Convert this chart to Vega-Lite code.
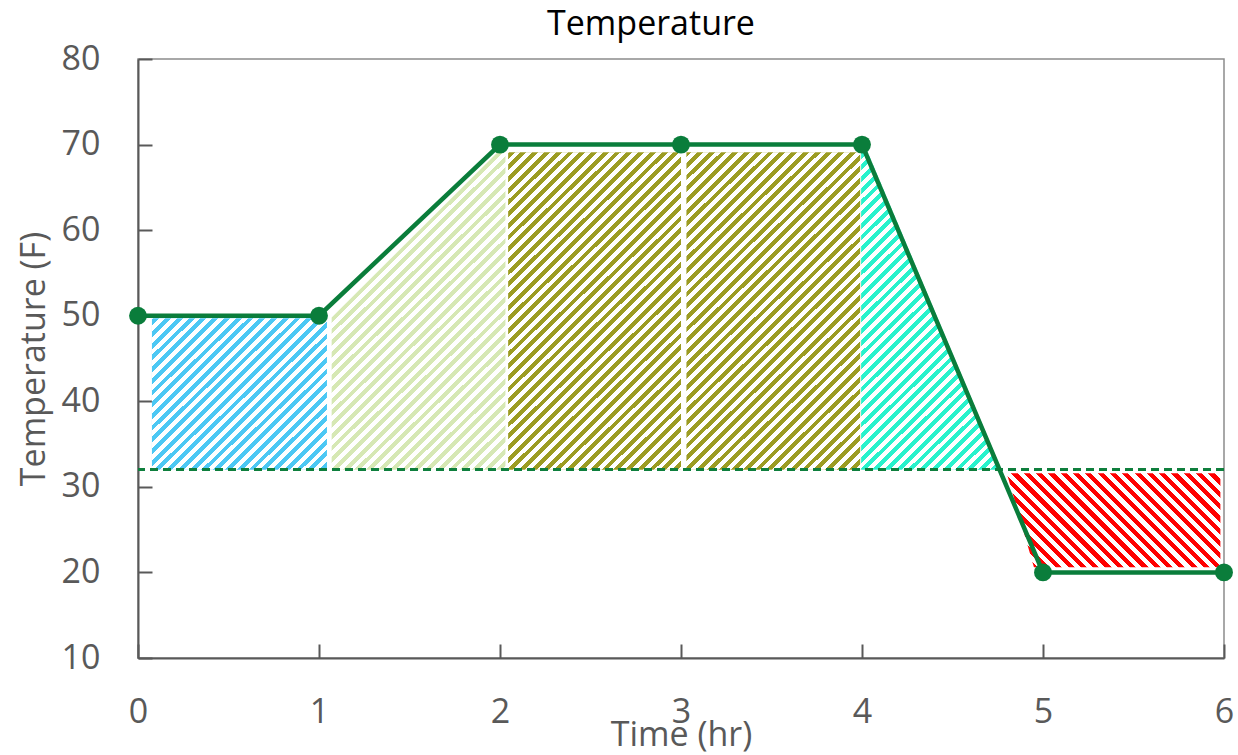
{
"$schema": "https://vega.github.io/schema/vega-lite/v6.json",
"width": 1086,
"height": 599,
"autosize": {"type": "none"},
"padding": {"left": 138, "top": 59, "right": 14, "bottom": 97},
"background": "#ffffff",
"title": {"text": "Temperature", "fontSize": 34, "font": "Open Sans", "fontWeight": "normal", "color": "#000000", "anchor": "middle", "frame": "group", "dx": -30, "offset": -27, "baseline": "alphabetic"},
"datasets": {
"temp": [
{"t": 0, "temp": 50}, {"t": 1, "temp": 50}, {"t": 2, "temp": 70}, {"t": 3, "temp": 70}, {"t": 4, "temp": 70}, {"t": 5, "temp": 20}, {"t": 6, "temp": 20}
],
"regions": [
{"region": "A", "x": 0.077, "top": 49.7, "bottom": 32},
{"region": "A", "x": 1.044, "top": 49.7, "bottom": 32},
{"region": "B", "x": 1.07, "top": 49.8, "bottom": 32},
{"region": "B", "x": 2.03, "top": 70, "bottom": 32},
{"region": "C", "x": 2.045, "top": 69.1, "bottom": 32},
{"region": "C", "x": 3.0, "top": 69.1, "bottom": 32},
{"region": "D", "x": 3.03, "top": 69.1, "bottom": 32},
{"region": "D", "x": 3.99, "top": 69.1, "bottom": 32},
{"region": "E", "x": 3.995, "top": 69.2, "bottom": 32},
{"region": "E", "x": 4.03, "top": 69.2, "bottom": 32},
{"region": "E", "x": 4.77, "top": 32, "bottom": 32},
{"region": "F", "x": 4.8, "top": 31.6, "bottom": 31.6},
{"region": "F", "x": 4.95, "top": 31.6, "bottom": 20.6},
{"region": "F", "x": 5.98, "top": 31.6, "bottom": 20.6}
]
},
"config": {
"font": "Open Sans",
"view": {"stroke": "#8c8c8c", "strokeWidth": 1.5},
"axis": {"grid": false, "domainColor": "#595959", "domainWidth": 2, "tickColor": "#595959", "tickWidth": 2, "tickSize": -14, "labelFont": "Open Sans", "labelFontSize": 34, "labelColor": "#595959", "titleFont": "Open Sans", "titleFontSize": 34, "titleColor": "#595959", "titleFontWeight": "normal", "labelFlush": false, "labelOverlap": false},
"axisX": {"labelPadding": 51, "titlePadding": -11, "labelAngle": 0, "tickCount": 6},
"axisY": {"labelPadding": 52, "titlePadding": 10, "tickCount": 7}
},
"layer": [
{
"data": {"name": "regions"},
"transform": [{"filter": "datum.region != 'F'"}],
"mark": {"type": "area", "opacity": 1},
"encoding": {
"x": {"field": "x", "type": "quantitative", "scale": {"domain": [0, 6], "nice": false}, "title": "Time (hr)"},
"y": {"field": "top", "type": "quantitative", "stack": null, "scale": {"domain": [10, 80], "nice": false}, "title": "Temperature (F)"},
"y2": {"field": "bottom"},
"color": {"field": "region", "type": "nominal", "scale": {"domain": ["A", "B", "C", "D", "E"], "range": ["#4cc8f4", "#d6e8b4", "#9c9c22", "#9c9c22", "#28f2cc"]}, "legend": null}
}
},
{
"data": {"name": "regions"},
"transform": [{"filter": "datum.region != 'F'"}],
"mark": {"type": "area", "opacity": 1, "color": {"gradient": "linear", "x1": 0, "y1": 0, "x2": 1.2062, "y2": 0.4647, "stops": [
{"offset":0,"color":"#fff0"},{"offset":0.005,"color":"#fff0"},{"offset":0.005,"color":"#fff"},{"offset":0.01,"color":"#fff"},
{"offset":0.01,"color":"#fff0"},{"offset":0.015,"color":"#fff0"},{"offset":0.015,"color":"#fff"},{"offset":0.02,"color":"#fff"},
{"offset":0.02,"color":"#fff0"},{"offset":0.025,"color":"#fff0"},{"offset":0.025,"color":"#fff"},{"offset":0.03,"color":"#fff"},
{"offset":0.03,"color":"#fff0"},{"offset":0.035,"color":"#fff0"},{"offset":0.035,"color":"#fff"},{"offset":0.04,"color":"#fff"},
{"offset":0.04,"color":"#fff0"},{"offset":0.045,"color":"#fff0"},{"offset":0.045,"color":"#fff"},{"offset":0.05,"color":"#fff"},
{"offset":0.05,"color":"#fff0"},{"offset":0.055,"color":"#fff0"},{"offset":0.055,"color":"#fff"},{"offset":0.06,"color":"#fff"},
{"offset":0.06,"color":"#fff0"},{"offset":0.065,"color":"#fff0"},{"offset":0.065,"color":"#fff"},{"offset":0.07,"color":"#fff"},
{"offset":0.07,"color":"#fff0"},{"offset":0.075,"color":"#fff0"},{"offset":0.075,"color":"#fff"},{"offset":0.08,"color":"#fff"},
{"offset":0.08,"color":"#fff0"},{"offset":0.085,"color":"#fff0"},{"offset":0.085,"color":"#fff"},{"offset":0.09,"color":"#fff"},
{"offset":0.09,"color":"#fff0"},{"offset":0.095,"color":"#fff0"},{"offset":0.095,"color":"#fff"},{"offset":0.1,"color":"#fff"},
{"offset":0.1,"color":"#fff0"},{"offset":0.105,"color":"#fff0"},{"offset":0.105,"color":"#fff"},{"offset":0.11,"color":"#fff"},
{"offset":0.11,"color":"#fff0"},{"offset":0.115,"color":"#fff0"},{"offset":0.115,"color":"#fff"},{"offset":0.12,"color":"#fff"},
{"offset":0.12,"color":"#fff0"},{"offset":0.125,"color":"#fff0"},{"offset":0.125,"color":"#fff"},{"offset":0.13,"color":"#fff"},
{"offset":0.13,"color":"#fff0"},{"offset":0.135,"color":"#fff0"},{"offset":0.135,"color":"#fff"},{"offset":0.14,"color":"#fff"},
{"offset":0.14,"color":"#fff0"},{"offset":0.145,"color":"#fff0"},{"offset":0.145,"color":"#fff"},{"offset":0.15,"color":"#fff"},
{"offset":0.15,"color":"#fff0"},{"offset":0.155,"color":"#fff0"},{"offset":0.155,"color":"#fff"},{"offset":0.16,"color":"#fff"},
{"offset":0.16,"color":"#fff0"},{"offset":0.165,"color":"#fff0"},{"offset":0.165,"color":"#fff"},{"offset":0.17,"color":"#fff"},
{"offset":0.17,"color":"#fff0"},{"offset":0.175,"color":"#fff0"},{"offset":0.175,"color":"#fff"},{"offset":0.18,"color":"#fff"},
{"offset":0.18,"color":"#fff0"},{"offset":0.185,"color":"#fff0"},{"offset":0.185,"color":"#fff"},{"offset":0.19,"color":"#fff"},
{"offset":0.19,"color":"#fff0"},{"offset":0.195,"color":"#fff0"},{"offset":0.195,"color":"#fff"},{"offset":0.2,"color":"#fff"},
{"offset":0.2,"color":"#fff0"},{"offset":0.205,"color":"#fff0"},{"offset":0.205,"color":"#fff"},{"offset":0.21,"color":"#fff"},
{"offset":0.21,"color":"#fff0"},{"offset":0.215,"color":"#fff0"},{"offset":0.215,"color":"#fff"},{"offset":0.22,"color":"#fff"},
{"offset":0.22,"color":"#fff0"},{"offset":0.225,"color":"#fff0"},{"offset":0.225,"color":"#fff"},{"offset":0.23,"color":"#fff"},
{"offset":0.23,"color":"#fff0"},{"offset":0.235,"color":"#fff0"},{"offset":0.235,"color":"#fff"},{"offset":0.24,"color":"#fff"},
{"offset":0.24,"color":"#fff0"},{"offset":0.245,"color":"#fff0"},{"offset":0.245,"color":"#fff"},{"offset":0.25,"color":"#fff"},
{"offset":0.25,"color":"#fff0"},{"offset":0.255,"color":"#fff0"},{"offset":0.255,"color":"#fff"},{"offset":0.26,"color":"#fff"},
{"offset":0.26,"color":"#fff0"},{"offset":0.265,"color":"#fff0"},{"offset":0.265,"color":"#fff"},{"offset":0.27,"color":"#fff"},
{"offset":0.27,"color":"#fff0"},{"offset":0.275,"color":"#fff0"},{"offset":0.275,"color":"#fff"},{"offset":0.28,"color":"#fff"},
{"offset":0.28,"color":"#fff0"},{"offset":0.285,"color":"#fff0"},{"offset":0.285,"color":"#fff"},{"offset":0.29,"color":"#fff"},
{"offset":0.29,"color":"#fff0"},{"offset":0.295,"color":"#fff0"},{"offset":0.295,"color":"#fff"},{"offset":0.3,"color":"#fff"},
{"offset":0.3,"color":"#fff0"},{"offset":0.305,"color":"#fff0"},{"offset":0.305,"color":"#fff"},{"offset":0.31,"color":"#fff"},
{"offset":0.31,"color":"#fff0"},{"offset":0.315,"color":"#fff0"},{"offset":0.315,"color":"#fff"},{"offset":0.32,"color":"#fff"},
{"offset":0.32,"color":"#fff0"},{"offset":0.325,"color":"#fff0"},{"offset":0.325,"color":"#fff"},{"offset":0.33,"color":"#fff"},
{"offset":0.33,"color":"#fff0"},{"offset":0.335,"color":"#fff0"},{"offset":0.335,"color":"#fff"},{"offset":0.34,"color":"#fff"},
{"offset":0.34,"color":"#fff0"},{"offset":0.345,"color":"#fff0"},{"offset":0.345,"color":"#fff"},{"offset":0.35,"color":"#fff"},
{"offset":0.35,"color":"#fff0"},{"offset":0.355,"color":"#fff0"},{"offset":0.355,"color":"#fff"},{"offset":0.36,"color":"#fff"},
{"offset":0.36,"color":"#fff0"},{"offset":0.365,"color":"#fff0"},{"offset":0.365,"color":"#fff"},{"offset":0.37,"color":"#fff"},
{"offset":0.37,"color":"#fff0"},{"offset":0.375,"color":"#fff0"},{"offset":0.375,"color":"#fff"},{"offset":0.38,"color":"#fff"},
{"offset":0.38,"color":"#fff0"},{"offset":0.385,"color":"#fff0"},{"offset":0.385,"color":"#fff"},{"offset":0.39,"color":"#fff"},
{"offset":0.39,"color":"#fff0"},{"offset":0.395,"color":"#fff0"},{"offset":0.395,"color":"#fff"},{"offset":0.4,"color":"#fff"},
{"offset":0.4,"color":"#fff0"},{"offset":0.405,"color":"#fff0"},{"offset":0.405,"color":"#fff"},{"offset":0.41,"color":"#fff"},
{"offset":0.41,"color":"#fff0"},{"offset":0.415,"color":"#fff0"},{"offset":0.415,"color":"#fff"},{"offset":0.42,"color":"#fff"},
{"offset":0.42,"color":"#fff0"},{"offset":0.425,"color":"#fff0"},{"offset":0.425,"color":"#fff"},{"offset":0.43,"color":"#fff"},
{"offset":0.43,"color":"#fff0"},{"offset":0.435,"color":"#fff0"},{"offset":0.435,"color":"#fff"},{"offset":0.44,"color":"#fff"},
{"offset":0.44,"color":"#fff0"},{"offset":0.445,"color":"#fff0"},{"offset":0.445,"color":"#fff"},{"offset":0.45,"color":"#fff"},
{"offset":0.45,"color":"#fff0"},{"offset":0.455,"color":"#fff0"},{"offset":0.455,"color":"#fff"},{"offset":0.46,"color":"#fff"},
{"offset":0.46,"color":"#fff0"},{"offset":0.465,"color":"#fff0"},{"offset":0.465,"color":"#fff"},{"offset":0.47,"color":"#fff"},
{"offset":0.47,"color":"#fff0"},{"offset":0.475,"color":"#fff0"},{"offset":0.475,"color":"#fff"},{"offset":0.48,"color":"#fff"},
{"offset":0.48,"color":"#fff0"},{"offset":0.485,"color":"#fff0"},{"offset":0.485,"color":"#fff"},{"offset":0.49,"color":"#fff"},
{"offset":0.49,"color":"#fff0"},{"offset":0.495,"color":"#fff0"},{"offset":0.495,"color":"#fff"},{"offset":0.5,"color":"#fff"},
{"offset":0.5,"color":"#fff0"},{"offset":0.505,"color":"#fff0"},{"offset":0.505,"color":"#fff"},{"offset":0.51,"color":"#fff"},
{"offset":0.51,"color":"#fff0"},{"offset":0.515,"color":"#fff0"},{"offset":0.515,"color":"#fff"},{"offset":0.52,"color":"#fff"},
{"offset":0.52,"color":"#fff0"},{"offset":0.525,"color":"#fff0"},{"offset":0.525,"color":"#fff"},{"offset":0.53,"color":"#fff"},
{"offset":0.53,"color":"#fff0"},{"offset":0.535,"color":"#fff0"},{"offset":0.535,"color":"#fff"},{"offset":0.54,"color":"#fff"},
{"offset":0.54,"color":"#fff0"},{"offset":0.545,"color":"#fff0"},{"offset":0.545,"color":"#fff"},{"offset":0.55,"color":"#fff"},
{"offset":0.55,"color":"#fff0"},{"offset":0.555,"color":"#fff0"},{"offset":0.555,"color":"#fff"},{"offset":0.56,"color":"#fff"},
{"offset":0.56,"color":"#fff0"},{"offset":0.565,"color":"#fff0"},{"offset":0.565,"color":"#fff"},{"offset":0.57,"color":"#fff"},
{"offset":0.57,"color":"#fff0"},{"offset":0.575,"color":"#fff0"},{"offset":0.575,"color":"#fff"},{"offset":0.58,"color":"#fff"},
{"offset":0.58,"color":"#fff0"},{"offset":0.585,"color":"#fff0"},{"offset":0.585,"color":"#fff"},{"offset":0.59,"color":"#fff"},
{"offset":0.59,"color":"#fff0"},{"offset":0.595,"color":"#fff0"},{"offset":0.595,"color":"#fff"},{"offset":0.6,"color":"#fff"},
{"offset":0.6,"color":"#fff0"},{"offset":0.605,"color":"#fff0"},{"offset":0.605,"color":"#fff"},{"offset":0.61,"color":"#fff"},
{"offset":0.61,"color":"#fff0"},{"offset":0.615,"color":"#fff0"},{"offset":0.615,"color":"#fff"},{"offset":0.62,"color":"#fff"},
{"offset":0.62,"color":"#fff0"},{"offset":0.625,"color":"#fff0"},{"offset":0.625,"color":"#fff"},{"offset":0.63,"color":"#fff"},
{"offset":0.63,"color":"#fff0"},{"offset":0.635,"color":"#fff0"},{"offset":0.635,"color":"#fff"},{"offset":0.64,"color":"#fff"},
{"offset":0.64,"color":"#fff0"},{"offset":0.645,"color":"#fff0"},{"offset":0.645,"color":"#fff"},{"offset":0.65,"color":"#fff"},
{"offset":0.65,"color":"#fff0"},{"offset":0.655,"color":"#fff0"},{"offset":0.655,"color":"#fff"},{"offset":0.66,"color":"#fff"},
{"offset":0.66,"color":"#fff0"},{"offset":0.665,"color":"#fff0"},{"offset":0.665,"color":"#fff"},{"offset":0.67,"color":"#fff"},
{"offset":0.67,"color":"#fff0"},{"offset":0.675,"color":"#fff0"},{"offset":0.675,"color":"#fff"},{"offset":0.68,"color":"#fff"},
{"offset":0.68,"color":"#fff0"},{"offset":0.685,"color":"#fff0"},{"offset":0.685,"color":"#fff"},{"offset":0.69,"color":"#fff"},
{"offset":0.69,"color":"#fff0"},{"offset":0.695,"color":"#fff0"},{"offset":0.695,"color":"#fff"},{"offset":0.7,"color":"#fff"},
{"offset":0.7,"color":"#fff0"},{"offset":0.705,"color":"#fff0"},{"offset":0.705,"color":"#fff"},{"offset":0.71,"color":"#fff"},
{"offset":0.71,"color":"#fff0"},{"offset":0.715,"color":"#fff0"},{"offset":0.715,"color":"#fff"},{"offset":0.72,"color":"#fff"},
{"offset":0.72,"color":"#fff0"},{"offset":0.725,"color":"#fff0"},{"offset":0.725,"color":"#fff"},{"offset":0.73,"color":"#fff"},
{"offset":0.73,"color":"#fff0"},{"offset":0.735,"color":"#fff0"},{"offset":0.735,"color":"#fff"},{"offset":0.74,"color":"#fff"},
{"offset":0.74,"color":"#fff0"},{"offset":0.745,"color":"#fff0"},{"offset":0.745,"color":"#fff"},{"offset":0.75,"color":"#fff"},
{"offset":0.75,"color":"#fff0"},{"offset":0.755,"color":"#fff0"},{"offset":0.755,"color":"#fff"},{"offset":0.76,"color":"#fff"},
{"offset":0.76,"color":"#fff0"},{"offset":0.765,"color":"#fff0"},{"offset":0.765,"color":"#fff"},{"offset":0.77,"color":"#fff"},
{"offset":0.77,"color":"#fff0"},{"offset":0.775,"color":"#fff0"},{"offset":0.775,"color":"#fff"},{"offset":0.78,"color":"#fff"},
{"offset":0.78,"color":"#fff0"},{"offset":0.785,"color":"#fff0"},{"offset":0.785,"color":"#fff"},{"offset":0.79,"color":"#fff"},
{"offset":0.79,"color":"#fff0"},{"offset":0.795,"color":"#fff0"},{"offset":0.795,"color":"#fff"},{"offset":0.8,"color":"#fff"},
{"offset":0.8,"color":"#fff0"},{"offset":0.805,"color":"#fff0"},{"offset":0.805,"color":"#fff"},{"offset":0.81,"color":"#fff"},
{"offset":0.81,"color":"#fff0"},{"offset":0.815,"color":"#fff0"},{"offset":0.815,"color":"#fff"},{"offset":0.82,"color":"#fff"},
{"offset":0.82,"color":"#fff0"},{"offset":0.825,"color":"#fff0"},{"offset":0.825,"color":"#fff"},{"offset":0.83,"color":"#fff"},
{"offset":0.83,"color":"#fff0"},{"offset":0.835,"color":"#fff0"},{"offset":0.835,"color":"#fff"},{"offset":0.84,"color":"#fff"},
{"offset":0.84,"color":"#fff0"},{"offset":0.845,"color":"#fff0"},{"offset":0.845,"color":"#fff"},{"offset":0.85,"color":"#fff"},
{"offset":0.85,"color":"#fff0"},{"offset":0.855,"color":"#fff0"},{"offset":0.855,"color":"#fff"},{"offset":0.86,"color":"#fff"},
{"offset":0.86,"color":"#fff0"},{"offset":0.865,"color":"#fff0"},{"offset":0.865,"color":"#fff"},{"offset":0.87,"color":"#fff"},
{"offset":0.87,"color":"#fff0"},{"offset":0.875,"color":"#fff0"},{"offset":0.875,"color":"#fff"},{"offset":0.88,"color":"#fff"},
{"offset":0.88,"color":"#fff0"},{"offset":0.885,"color":"#fff0"},{"offset":0.885,"color":"#fff"},{"offset":0.89,"color":"#fff"},
{"offset":0.89,"color":"#fff0"},{"offset":0.895,"color":"#fff0"},{"offset":0.895,"color":"#fff"},{"offset":0.9,"color":"#fff"},
{"offset":0.9,"color":"#fff0"},{"offset":0.905,"color":"#fff0"},{"offset":0.905,"color":"#fff"},{"offset":0.91,"color":"#fff"},
{"offset":0.91,"color":"#fff0"},{"offset":0.915,"color":"#fff0"},{"offset":0.915,"color":"#fff"},{"offset":0.92,"color":"#fff"},
{"offset":0.92,"color":"#fff0"},{"offset":0.925,"color":"#fff0"},{"offset":0.925,"color":"#fff"},{"offset":0.93,"color":"#fff"},
{"offset":0.93,"color":"#fff0"},{"offset":0.935,"color":"#fff0"},{"offset":0.935,"color":"#fff"},{"offset":0.94,"color":"#fff"},
{"offset":0.94,"color":"#fff0"},{"offset":0.945,"color":"#fff0"},{"offset":0.945,"color":"#fff"},{"offset":0.95,"color":"#fff"},
{"offset":0.95,"color":"#fff0"},{"offset":0.955,"color":"#fff0"},{"offset":0.955,"color":"#fff"},{"offset":0.96,"color":"#fff"},
{"offset":0.96,"color":"#fff0"},{"offset":0.965,"color":"#fff0"},{"offset":0.965,"color":"#fff"},{"offset":0.97,"color":"#fff"},
{"offset":0.97,"color":"#fff0"},{"offset":0.975,"color":"#fff0"},{"offset":0.975,"color":"#fff"},{"offset":0.98,"color":"#fff"},
{"offset":0.98,"color":"#fff0"},{"offset":0.985,"color":"#fff0"},{"offset":0.985,"color":"#fff"},{"offset":0.99,"color":"#fff"},
{"offset":0.99,"color":"#fff0"},{"offset":0.995,"color":"#fff0"},{"offset":0.995,"color":"#fff"},{"offset":1,"color":"#fff"}
]}},
"encoding": {
"x": {"field": "x", "type": "quantitative", "scale": {"domain": [0, 6], "nice": false}, "title": "Time (hr)"},
"y": {"field": "top", "type": "quantitative", "stack": null, "scale": {"domain": [10, 80], "nice": false}, "title": "Temperature (F)"},
"y2": {"field": "bottom"}
}
},
{
"data": {"name": "regions"},
"transform": [{"filter": "datum.region == 'F'"}],
"mark": {"type": "area", "opacity": 1, "color": {"gradient": "linear", "x1": 0, "y1": 1, "x2": 1.2064, "y2": 0.4685, "stops": [
{"offset":0,"color":"#ff0000"},{"offset":0.02,"color":"#ff0000"},{"offset":0.02,"color":"#ffffff"},{"offset":0.04,"color":"#ffffff"},
{"offset":0.04,"color":"#ff0000"},{"offset":0.06,"color":"#ff0000"},{"offset":0.06,"color":"#ffffff"},{"offset":0.08,"color":"#ffffff"},
{"offset":0.08,"color":"#ff0000"},{"offset":0.1,"color":"#ff0000"},{"offset":0.1,"color":"#ffffff"},{"offset":0.12,"color":"#ffffff"},
{"offset":0.12,"color":"#ff0000"},{"offset":0.14,"color":"#ff0000"},{"offset":0.14,"color":"#ffffff"},{"offset":0.16,"color":"#ffffff"},
{"offset":0.16,"color":"#ff0000"},{"offset":0.18,"color":"#ff0000"},{"offset":0.18,"color":"#ffffff"},{"offset":0.2,"color":"#ffffff"},
{"offset":0.2,"color":"#ff0000"},{"offset":0.22,"color":"#ff0000"},{"offset":0.22,"color":"#ffffff"},{"offset":0.24,"color":"#ffffff"},
{"offset":0.24,"color":"#ff0000"},{"offset":0.26,"color":"#ff0000"},{"offset":0.26,"color":"#ffffff"},{"offset":0.28,"color":"#ffffff"},
{"offset":0.28,"color":"#ff0000"},{"offset":0.3,"color":"#ff0000"},{"offset":0.3,"color":"#ffffff"},{"offset":0.32,"color":"#ffffff"},
{"offset":0.32,"color":"#ff0000"},{"offset":0.34,"color":"#ff0000"},{"offset":0.34,"color":"#ffffff"},{"offset":0.36,"color":"#ffffff"},
{"offset":0.36,"color":"#ff0000"},{"offset":0.38,"color":"#ff0000"},{"offset":0.38,"color":"#ffffff"},{"offset":0.4,"color":"#ffffff"},
{"offset":0.4,"color":"#ff0000"},{"offset":0.42,"color":"#ff0000"},{"offset":0.42,"color":"#ffffff"},{"offset":0.44,"color":"#ffffff"},
{"offset":0.44,"color":"#ff0000"},{"offset":0.46,"color":"#ff0000"},{"offset":0.46,"color":"#ffffff"},{"offset":0.48,"color":"#ffffff"},
{"offset":0.48,"color":"#ff0000"},{"offset":0.5,"color":"#ff0000"},{"offset":0.5,"color":"#ffffff"},{"offset":0.52,"color":"#ffffff"},
{"offset":0.52,"color":"#ff0000"},{"offset":0.54,"color":"#ff0000"},{"offset":0.54,"color":"#ffffff"},{"offset":0.56,"color":"#ffffff"},
{"offset":0.56,"color":"#ff0000"},{"offset":0.58,"color":"#ff0000"},{"offset":0.58,"color":"#ffffff"},{"offset":0.6,"color":"#ffffff"},
{"offset":0.6,"color":"#ff0000"},{"offset":0.62,"color":"#ff0000"},{"offset":0.62,"color":"#ffffff"},{"offset":0.64,"color":"#ffffff"},
{"offset":0.64,"color":"#ff0000"},{"offset":0.66,"color":"#ff0000"},{"offset":0.66,"color":"#ffffff"},{"offset":0.68,"color":"#ffffff"},
{"offset":0.68,"color":"#ff0000"},{"offset":0.7,"color":"#ff0000"},{"offset":0.7,"color":"#ffffff"},{"offset":0.72,"color":"#ffffff"},
{"offset":0.72,"color":"#ff0000"},{"offset":0.74,"color":"#ff0000"},{"offset":0.74,"color":"#ffffff"},{"offset":0.76,"color":"#ffffff"},
{"offset":0.76,"color":"#ff0000"},{"offset":0.78,"color":"#ff0000"},{"offset":0.78,"color":"#ffffff"},{"offset":0.8,"color":"#ffffff"},
{"offset":0.8,"color":"#ff0000"},{"offset":0.82,"color":"#ff0000"},{"offset":0.82,"color":"#ffffff"},{"offset":0.84,"color":"#ffffff"},
{"offset":0.84,"color":"#ff0000"},{"offset":0.86,"color":"#ff0000"},{"offset":0.86,"color":"#ffffff"},{"offset":0.88,"color":"#ffffff"},
{"offset":0.88,"color":"#ff0000"},{"offset":0.9,"color":"#ff0000"},{"offset":0.9,"color":"#ffffff"},{"offset":0.92,"color":"#ffffff"},
{"offset":0.92,"color":"#ff0000"},{"offset":0.94,"color":"#ff0000"},{"offset":0.94,"color":"#ffffff"},{"offset":0.96,"color":"#ffffff"},
{"offset":0.96,"color":"#ff0000"},{"offset":0.98,"color":"#ff0000"},{"offset":0.98,"color":"#ffffff"},{"offset":1,"color":"#ffffff"}
]}},
"encoding": {
"x": {"field": "x", "type": "quantitative", "scale": {"domain": [0, 6], "nice": false}, "title": "Time (hr)"},
"y": {"field": "top", "type": "quantitative", "stack": null, "scale": {"domain": [10, 80], "nice": false}, "title": "Temperature (F)"},
"y2": {"field": "bottom"}
}
},
{
"data": {"name": "temp"},
"mark": {"type": "rule", "color": "#0e7f3d", "strokeWidth": 2.5, "strokeDash": [8, 5]},
"encoding": {
"y": {"datum": 32, "type": "quantitative", "scale": {"domain": [10, 80], "nice": false}, "title": "Temperature (F)"}
}
},
{
"data": {"name": "temp"},
"mark": {"type": "line", "color": "#0a7d3b", "strokeWidth": 4.5},
"encoding": {
"x": {"field": "t", "type": "quantitative", "scale": {"domain": [0, 6], "nice": false}, "title": "Time (hr)"},
"y": {"field": "temp", "type": "quantitative", "scale": {"domain": [10, 80], "nice": false}, "title": "Temperature (F)"}
}
},
{
"data": {"name": "temp"},
"mark": {"type": "point", "filled": true, "opacity": 1, "size": 320, "color": "#0a7d3b"},
"encoding": {
"x": {"field": "t", "type": "quantitative", "scale": {"domain": [0, 6], "nice": false}, "title": "Time (hr)"},
"y": {"field": "temp", "type": "quantitative", "scale": {"domain": [10, 80], "nice": false}, "title": "Temperature (F)"}
}
}
]
}
